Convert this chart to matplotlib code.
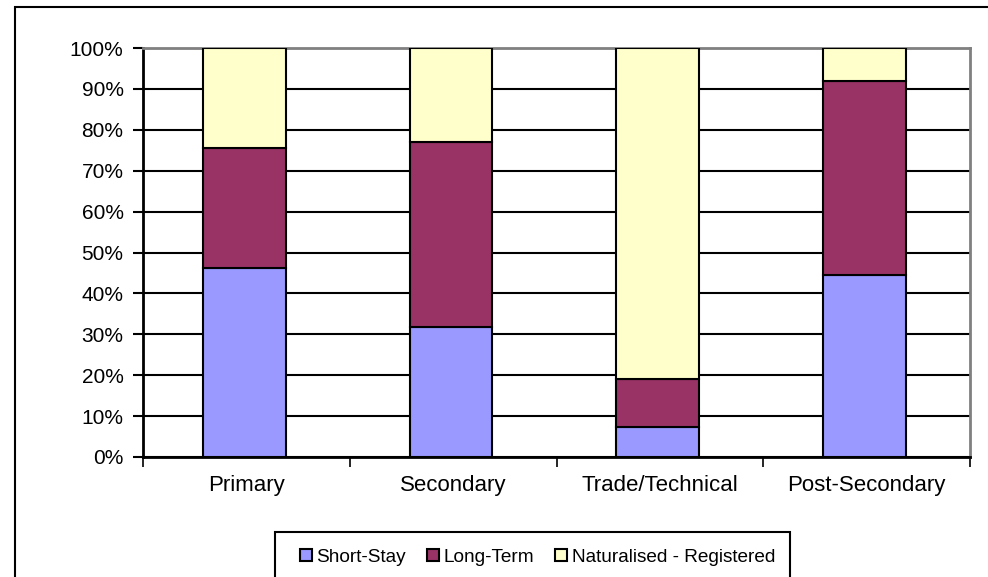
import numpy as np
import matplotlib
matplotlib.use("Agg")
import matplotlib.pyplot as plt
from matplotlib.patches import Rectangle
from matplotlib.ticker import FuncFormatter, MultipleLocator

plt.rcParams["font.family"] = ["Liberation Sans", "DejaVu Sans"]

categories = ["Primary", "Secondary", "Trade/Technical", "Post-Secondary"]
short_stay = [46.3, 31.8, 7.4, 44.4]
long_term = [29.2, 45.1, 11.6, 47.5]
naturalised = [24.5, 23.1, 81.0, 8.1]
series_names = ["Short-Stay", "Long-Term", "Naturalised - Registered"]
colors = ["#9999FF", "#993366", "#FFFFCC"]

fig = plt.figure(figsize=(9.88, 5.77), dpi=100)
ax = fig.add_axes([143 / 988, 1 - 457 / 577, (970 - 143) / 988, (457 - 48) / 577])

x = np.arange(len(categories))
bottom = np.zeros(len(categories))
for vals, name, col in zip([short_stay, long_term, naturalised], series_names, colors):
    ax.bar(x - 0.01, vals, 0.4, bottom=bottom, color=col, edgecolor="black",
           linewidth=1.5, label=name, zorder=3)
    bottom += np.array(vals)

ax.set_xlim(-0.5, len(categories) - 0.5)
ax.set_ylim(0, 100)
ax.yaxis.set_major_locator(MultipleLocator(10))
ax.yaxis.set_major_formatter(FuncFormatter(lambda v, p: f"{v:.0f}%"))
ax.grid(axis="y", color="black", linewidth=1.5, zorder=0)
ax.set_axisbelow(True)

ax.set_xticks(x)
ax.set_xticklabels(categories, fontsize=16)
ax.tick_params(axis="x", which="major", length=0, pad=13)
ax.set_xticks(np.arange(-0.5, len(categories)), minor=True)
ax.tick_params(axis="x", which="minor", length=7, width=1.2, direction="out")
ax.tick_params(axis="y", length=7, width=1.5, labelsize=15, pad=7)

for side in ["left", "bottom"]:
    ax.spines[side].set_linewidth(2)
    ax.spines[side].set_color("black")
for side in ["top", "right"]:
    ax.spines[side].set_linewidth(2)
    ax.spines[side].set_color("#808080")

# outer chart frame
fig.patches.append(Rectangle((15 / 988, -0.05), 1.2, 1 - 7 / 577 + 0.05,
                             transform=fig.transFigure, fill=False,
                             edgecolor="black", linewidth=1.5))

# legend box (runs off the bottom edge as in the original)
fig.patches.append(Rectangle((275 / 988, -0.05), (790 - 275) / 988, 0.05 + (577 - 532) / 577,
                             transform=fig.transFigure, fill=False,
                             edgecolor="black", linewidth=1.5))
leg = fig.legend(loc="center left", bbox_to_anchor=(300 / 988, 1 - 557 / 577),
                 ncol=3, fontsize=13.7, frameon=False,
                 handlelength=0.62, handleheight=0.62,
                 handletextpad=0.25, columnspacing=1.1, borderpad=0,
                 borderaxespad=0)

fig.savefig("out.png", dpi=100)
